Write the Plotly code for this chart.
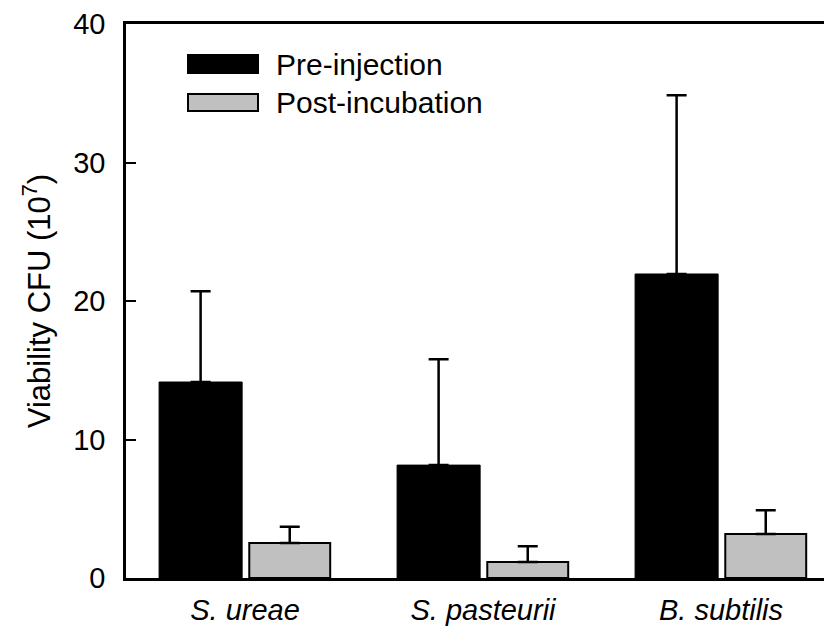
import plotly.graph_objects as go

categories = ["S. ureae", "S. pasteurii", "B. subtilis"]
pre_injection = [14.15, 8.15, 21.95]
pre_err = [6.55, 7.65, 12.9]
post_incubation = [2.53, 1.16, 3.18]
post_err = [1.17, 1.14, 1.72]
y_ticks = [0, 10, 20, 30, 40]

FONT = "Liberation Sans, Arial, sans-serif"
x_idx = list(range(len(categories)))

fig = go.Figure()
fig.add_trace(go.Bar(
    x=x_idx, y=pre_injection, name="Pre-injection",
    offset=-0.361, width=0.349,
    marker=dict(color="#000000", line=dict(color="#000000", width=1)),
    error_y=dict(type="data", array=pre_err, arrayminus=[0]*3, symmetric=False,
                 color="#000000", thickness=2.5, width=10),
    showlegend=False,
))
fig.add_trace(go.Bar(
    x=x_idx, y=post_incubation, name="Post-incubation",
    offset=0.018, width=0.340,
    marker=dict(color="#c0c0c0", line=dict(color="#000000", width=2)),
    error_y=dict(type="data", array=post_err, arrayminus=[0]*3, symmetric=False,
                 color="#000000", thickness=2.5, width=10),
    showlegend=False,
))

# page body has an 8px margin, so the figure is drawn 8px smaller and offset
OFF = 8
W, H = 832 - OFF, 632 - OFF
L, R, T, B = 126 - OFF, 0, 24 - OFF, 54
pw, ph = W - L - R, H - T - B

def px(x):
    return (x - OFF - L) / pw

def py(y):
    return (H - B - (y - OFF)) / ph

legend_items = [("Pre-injection", "#000000", 55, 73), ("Post-incubation", "#c0c0c0", 94, 111)]
shapes = []
annotations = []
for label, color, y0, y1 in legend_items:
    shapes.append(dict(type="rect", xref="paper", yref="paper",
                       x0=px(188), x1=px(258), y0=py(y1), y1=py(y0),
                       fillcolor=color, line=dict(color="#000000", width=2)))
    annotations.append(dict(xref="paper", yref="paper", x=px(274), y=py((y0 + y1) / 2),
                            text=label, showarrow=False, xanchor="left", yanchor="middle",
                            font=dict(family=FONT, size=30, color="#000000")))

fig.update_layout(
    width=W, height=H,
    margin=dict(l=L, r=R, t=T, b=B, pad=0),
    plot_bgcolor="white", paper_bgcolor="white",
    barmode="overlay",
    shapes=shapes, annotations=annotations,
    font=dict(family=FONT, color="#000000"),
    xaxis=dict(
        range=[-0.5, -0.5 + (832 - 126) / 238.0],
        tickmode="array", tickvals=x_idx,
        ticktext=["<i>%s</i>" % c for c in categories],
        tickfont=dict(size=29, family=FONT, color="#000000"),
        showline=True, linecolor="#000000", linewidth=2.5, mirror=True,
        ticks="", showgrid=False, zeroline=False,
        ticklabelstandoff=4,
    ),
    yaxis=dict(
        range=[0, 40],
        tickmode="array", tickvals=y_ticks,
        tickfont=dict(size=29, family=FONT, color="#000000"),
        showline=True, linecolor="#000000", linewidth=2.5,
        ticks="inside", ticklen=10, tickwidth=2, tickcolor="#000000",
        showgrid=False, zeroline=False,
        ticklabelstandoff=12,
        title=dict(text="Viability CFU (10<sup>7</sup>)",
                   font=dict(size=31, family=FONT, color="#000000"), standoff=14),
    ),
)

fig.write_html("out.html")
